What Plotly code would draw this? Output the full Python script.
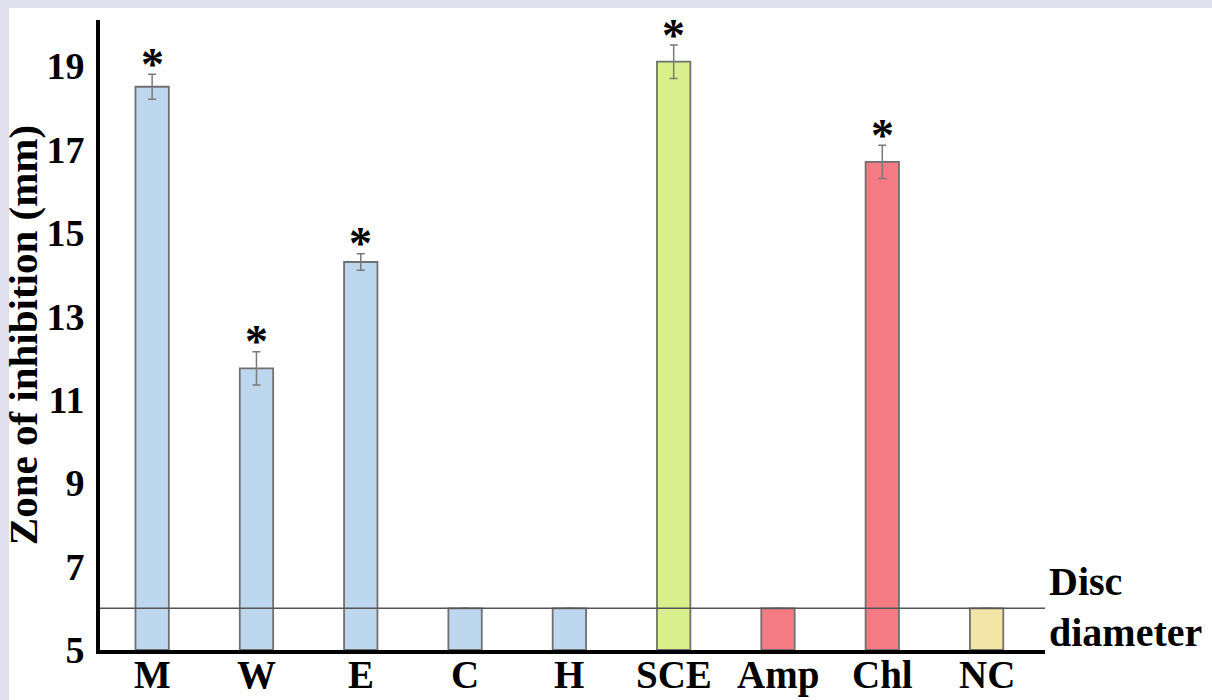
import plotly.graph_objects as go

categories = ["M", "W", "E", "C", "H", "SCE", "Amp", "Chl", "NC"]
values = [18.5, 11.75, 14.3, 6.0, 6.0, 19.1, 6.0, 16.7, 6.0]
errors = [0.3, 0.4, 0.2, 0.0, 0.0, 0.4, 0.0, 0.4, 0.0]
significant = [True, True, True, False, False, True, False, True, False]
bar_colors = ["#bdd7ee", "#bdd7ee", "#bdd7ee", "#bdd7ee", "#bdd7ee",
              "#d8ef8c", "#f47a84", "#f47a84", "#f2e5a6"]
y_ticks = [5, 7, 9, 11, 13, 15, 17, 19]
disc_diameter = 6.0

FONT = "Liberation Serif"

fig = go.Figure()
fig.add_trace(go.Bar(
    x=categories, y=[v - 5 for v in values], base=5,
    marker=dict(color=bar_colors, line=dict(color="#707070", width=1.8)),
    width=0.32,
    error_y=dict(type="data", array=errors, color="#7a7a7a", thickness=1.5, width=4),
    showlegend=False, hoverinfo="skip",
))

for c, v, e, s in zip(categories, values, errors, significant):
    if s:
        fig.add_annotation(x=c, y=v + e, text="<b>*</b>", showarrow=False,
                           xanchor="center", yanchor="middle", yshift=10,
                           font=dict(family=FONT, size=46, color="black"))

# category labels drawn as annotations so they sit closer to the axis
for c in categories:
    fig.add_annotation(x=c, xref="x", yref="paper", y=0, text="<b>%s</b>" % c,
                       showarrow=False, xanchor="center", yanchor="top",
                       yshift=-1, font=dict(family=FONT, size=39, color="black"))

fig.add_shape(type="rect", xref="paper", yref="paper",
              x0=-0.0963, x1=1.3, y0=-0.3, y1=1.019,
              fillcolor="white", line=dict(width=0), layer="below")
fig.add_shape(type="line", xref="paper", yref="y", x0=0, x1=1,
              y0=disc_diameter, y1=disc_diameter,
              line=dict(color="#555555", width=1.5), layer="above")

fig.add_annotation(xref="paper", yref="y", x=1.002, y=disc_diameter,
                   text="<b>Disc</b>", showarrow=False,
                   xanchor="left", yanchor="bottom", yshift=2,
                   font=dict(family=FONT, size=40, color="black"))
fig.add_annotation(xref="paper", yref="y", x=1.002, y=disc_diameter,
                   text="<b>diameter</b>", showarrow=False,
                   xanchor="left", yanchor="top", yshift=0,
                   font=dict(family=FONT, size=40, color="black"))

fig.update_layout(
    width=1212, height=700,
    margin=dict(l=100, r=167, t=20, b=50),
    paper_bgcolor="#e0dfed", plot_bgcolor="rgba(0,0,0,0)",
    bargap=0.68,
)
fig.update_xaxes(
    type="category", range=[-0.5, 8.56], automargin=False,
    showline=True, linecolor="black", linewidth=4,
    showgrid=False, ticks="", showticklabels=False,
)
fig.update_yaxes(
    range=[5, 20.1], tickvals=y_ticks, automargin=False,
    showline=True, linecolor="black", linewidth=4,
    showgrid=False, zeroline=False, ticks="", ticklabelstandoff=4,
    tickfont=dict(family=FONT, size=38, color="black", weight="bold"),
    title=dict(text="Zone of inhibition (mm)", standoff=0,
               font=dict(family=FONT, size=41, color="black", weight="bold")),
)

fig.write_html(
    "out.html",
    config={"displayModeBar": False},
    post_script="document.body.style.margin='0';"
                "document.body.style.background='#e0dfed';"
                "document.body.style.overflow='hidden';",
)
